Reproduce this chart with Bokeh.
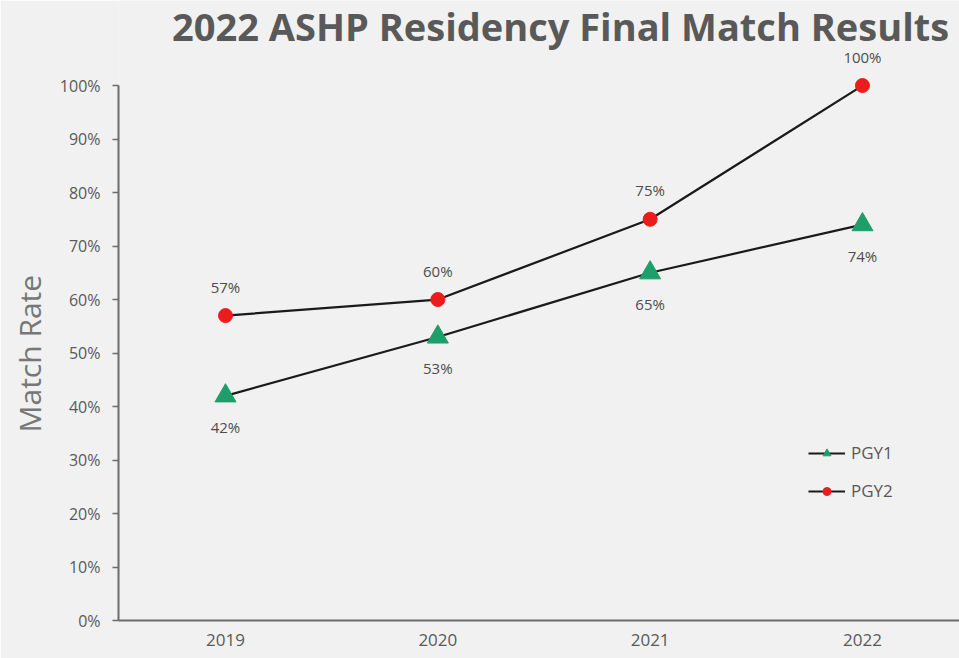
from bokeh.plotting import figure
from bokeh.models import (Range1d, FixedTicker, Label, LabelSet, ColumnDataSource,
                          NumeralTickFormatter, Title)
from bokeh.core.properties import value
from bokeh.embed import file_html
from bokeh.resources import INLINE

# ---- data ----
years = ["2019", "2020", "2021", "2022"]
pgy1 = [0.42, 0.53, 0.65, 0.74]
pgy2 = [0.57, 0.60, 0.75, 1.00]
y_ticks = [0.0, 0.1, 0.2, 0.3, 0.4, 0.5, 0.6, 0.7, 0.8, 0.9, 1.0]
title_text = "2022 ASHP Residency Final Match Results"
y_label = "Match Rate"

FONT = "Open Sans"
BG = "#f1f1f1"
GRAY = "#595959"

xs = list(range(len(years)))
src1 = ColumnDataSource(dict(x=xs, y=pgy1, lab=[f"{round(v*100)}%" for v in pgy1]))
src2 = ColumnDataSource(dict(x=xs, y=pgy2, lab=[f"{round(v*100)}%" for v in pgy2]))

W, H = 959, 658
p = figure(width=W, height=H, output_backend="svg", toolbar_location=None,
           x_range=Range1d(-0.504, 3.457), y_range=Range1d(0, 1.159),
           min_border_left=118, min_border_right=0, min_border_top=0,
           min_border_bottom=38)
p.background_fill_color = BG
p.border_fill_color = BG
p.outline_line_color = None
p.xgrid.grid_line_color = None
p.ygrid.grid_line_color = None

# axes
p.xaxis.ticker = FixedTicker(ticks=xs)
p.xaxis.major_label_overrides = {i: y for i, y in enumerate(years)}
p.xaxis.major_tick_out = 0
p.xaxis.major_tick_in = 0
p.xaxis.minor_tick_line_color = None
p.xaxis.axis_line_color = "#6b6b6b"
p.xaxis.axis_line_width = 2
p.xaxis.major_label_text_font = FONT
p.xaxis.major_label_text_font_size = "17px"
p.xaxis.major_label_text_color = GRAY
p.xaxis.major_label_standoff = 13

p.yaxis.ticker = FixedTicker(ticks=y_ticks)
p.yaxis.formatter = NumeralTickFormatter(format="0%")
p.yaxis.bounds = (0, 1)
p.yaxis.major_tick_out = 6
p.yaxis.major_tick_in = 0
p.yaxis.major_tick_line_color = "#6b6b6b"
p.yaxis.major_tick_line_width = 1.5
p.yaxis.minor_tick_line_color = None
p.yaxis.axis_line_color = "#6b6b6b"
p.yaxis.axis_line_width = 2
p.yaxis.major_label_text_font = FONT
p.yaxis.major_label_text_font_size = "16px"
p.yaxis.major_label_text_color = GRAY
p.yaxis.major_label_standoff = 12

# y-axis title, placed beside the 0-100% span
p.add_layout(Title(text=y_label, align="left", offset=188, text_font=FONT,
                   text_font_style="normal", text_font_size="30px",
                   text_color="#777777", standoff=13), "left")

# lines
p.line("x", "y", source=src1, line_color="#1a1a1a", line_width=2.2, legend_label="PGY1")
p.line("x", "y", source=src2, line_color="#1a1a1a", line_width=2.2, legend_label="PGY2")
# markers
p.scatter("x", "y", source=src1, marker="triangle", size=21, fill_color="#1e9e6b",
          line_color="#1e9e6b", legend_label="PGY1")
p.scatter("x", "y", source=src2, marker="circle", size=14, fill_color="#ec1c1c",
          line_color="#ec1c1c", legend_label="PGY2")

# data labels
p.add_layout(LabelSet(x="x", y="y", text="lab", source=src2, y_offset=29,
                      text_align="center", text_baseline="middle",
                      text_font=value(FONT), text_font_size=value("15px"),
                      text_color="#4d4d4d"))
p.add_layout(LabelSet(x="x", y="y", text="lab", source=src1, y_offset=-31,
                      text_align="center", text_baseline="middle",
                      text_font=value(FONT), text_font_size=value("15px"),
                      text_color="#4d4d4d"))

# title
p.add_layout(Label(x=1.578, y=1.112, text=title_text, text_align="center",
                   text_baseline="middle", text_font=FONT,
                   text_font_style="bold", text_font_size="38px", text_color=GRAY))

# legend
lg = p.legend[0]
lg.location = (690, 118)
lg.background_fill_alpha = 0
lg.border_line_color = None
lg.padding = 0
lg.margin = 0
lg.glyph_width = 37
lg.glyph_height = 20
lg.label_height = 20
lg.spacing = 15
lg.label_standoff = 6
lg.label_text_font = FONT
lg.label_text_font_size = "17px"
lg.label_text_color = GRAY

open("out.html", "w").write(file_html(p, INLINE))
